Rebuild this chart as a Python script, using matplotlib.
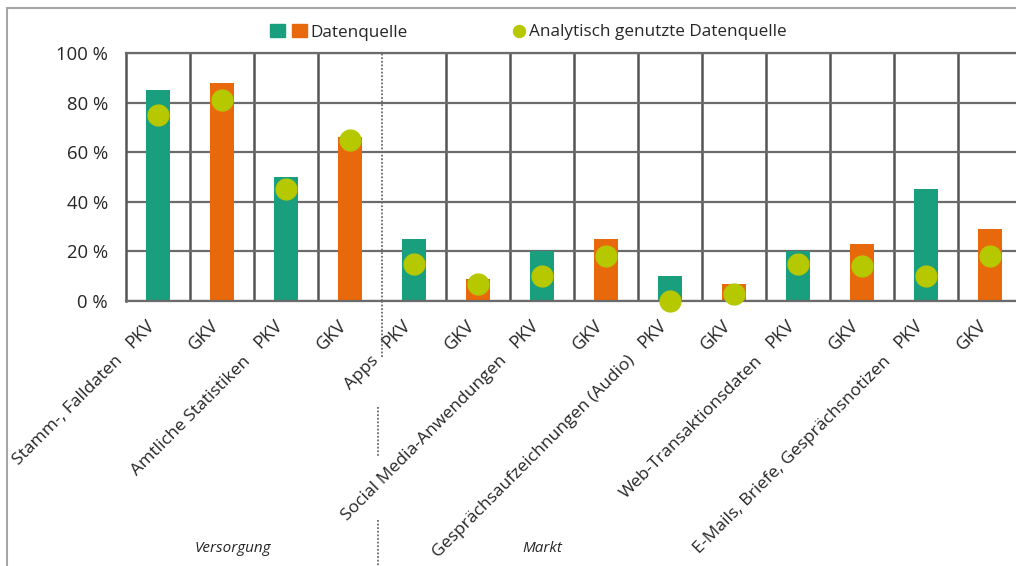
import numpy as np
import matplotlib
matplotlib.use("Agg")
import matplotlib.pyplot as plt
from matplotlib.patches import Patch, Rectangle
from matplotlib.lines import Line2D
from matplotlib.legend_handler import HandlerTuple
import matplotlib.transforms as mtrans

plt.rcParams['font.family'] = ['Open Sans', 'DejaVu Sans']

# data
categories = ["Stamm-, Falldaten", "Amtliche Statistiken", "Apps",
              "Social Media-Anwendungen", "Gesprächsaufzeichnungen (Audio)",
              "Web-Transaktionsdaten", "E-Mails, Briefe, Gesprächsnotizen"]
insurers   = ["PKV", "GKV"]
quelle     = [85, 88, 50, 66, 25, 9, 20, 25, 10, 7, 20, 23, 45, 29]
analytisch = [75, 81, 45, 65, 15, 7, 10, 18, 0, 3, 15, 14, 10, 18]
groups     = ["Versorgung", "Markt"]

teal   = "#199e7e"
orange = "#e8690c"
green  = "#b5c800"
grid_c = "#6b6b6b"
text_c = "#262626"

n = len(quelle)
x = np.arange(n)
tick_labels = insurers * len(categories)
bar_colors = [teal, orange] * len(categories)

fig = plt.figure(figsize=(10.16, 5.66), dpi=100)
ax = fig.add_axes([126/1016, 1-301/566, 896/1016, 248/566])

# outer frame
fig.patches.append(Rectangle((7/1016, -0.1), 1.2, 1-8/566+0.1, transform=fig.transFigure,
                             fill=False, edgecolor="#a6a6a6", lw=1.5))

ax.set_xlim(-0.5, n-0.5)
ax.set_ylim(0, 100)
ax.set_yticks(np.arange(0, 101, 20))
ax.set_yticklabels(["%d %%" % v for v in range(0, 101, 20)])
ax.yaxis.grid(True, color=grid_c, lw=1.6, zorder=0)
ax.set_axisbelow(True)

# vertical separators between bars
bounds = np.arange(n-1) + 0.5
for b in bounds:
    if b == 3.5:
        ax.axvline(b, color=grid_c, lw=1.3, ls=(0, (1, 1)), zorder=0.5)
    else:
        ax.axvline(b, color="#555555", lw=1.8, zorder=0.5)

ax.spines["right"].set_visible(False)
for s in ["top", "bottom", "left"]:
    ax.spines[s].set_color(grid_c)
    ax.spines[s].set_linewidth(1.6)
ax.spines["left"].set_color("#555555")
ax.spines["left"].set_linewidth(1.8)

ax.bar(x, quelle, width=0.36, color=bar_colors, zorder=2)
ax.plot(x, analytisch, "o", color=green, markersize=15, ls="none",
        zorder=3, clip_on=False)

ax.set_xticks(x)
ax.set_xticklabels(tick_labels, rotation=45, ha="right", va="top",
                   fontsize=13, color=text_c)
offset = mtrans.ScaledTranslation(-4/100, 0, fig.dpi_scale_trans)
for lab in ax.get_xticklabels():
    lab.set_transform(lab.get_transform() + offset)
ax.tick_params(axis="x", length=0, pad=11)
ax.tick_params(axis="y", length=0, pad=13, labelsize=13.3, labelcolor=text_c)

trans = mtrans.blended_transform_factory(ax.transData, ax.transAxes)
for k, cat in enumerate(categories):
    ax.text(2*k - 0.5, -0.21, cat, transform=trans, rotation=45,
            ha="right", va="top", fontsize=12.6, color=text_c)

ax.text(1.17, -1.0, groups[0], transform=trans, ha="center", va="center",
        fontsize=11, style="italic", color=text_c)
ax.text(6.0, -1.0, groups[1], transform=trans, ha="center", va="center",
        fontsize=11, style="italic", color=text_c)

# dotted separators below the axis
for y0, y1, xx in [(0, -0.23, 3.5), (-0.427, -0.629, 3.44), (-0.883, -1.1, 3.44)]:
    ax.add_line(Line2D([xx, xx], [y0, y1], transform=trans, color=grid_c,
                       lw=1.3, ls=(0, (1, 1)), clip_on=False))

# legend, two parts
leg1 = ax.legend([(Patch(color=teal), Patch(color=orange))], ["Datenquelle"],
                 handler_map={tuple: HandlerTuple(ndivide=None, pad=0.41)},
                 loc="center left", bbox_to_anchor=(263/1016, 1-32.5/566),
                 bbox_transform=fig.transFigure, frameon=False, borderaxespad=0,
                 fontsize=12.3, handlelength=2.16, handleheight=0.75,
                 handletextpad=0.22, labelcolor=text_c)
ax.add_artist(leg1)
ax.legend([Line2D([], [], marker="o", color=green, ls="none", markersize=8.6)],
          ["Analytisch genutzte Datenquelle"],
          loc="center left", bbox_to_anchor=(505/1016, 1-32.5/566),
          bbox_transform=fig.transFigure, frameon=False, borderaxespad=0,
          fontsize=12.3, handlelength=0.8, handletextpad=0.2, labelcolor=text_c)

fig.savefig("out.png", dpi=100)
